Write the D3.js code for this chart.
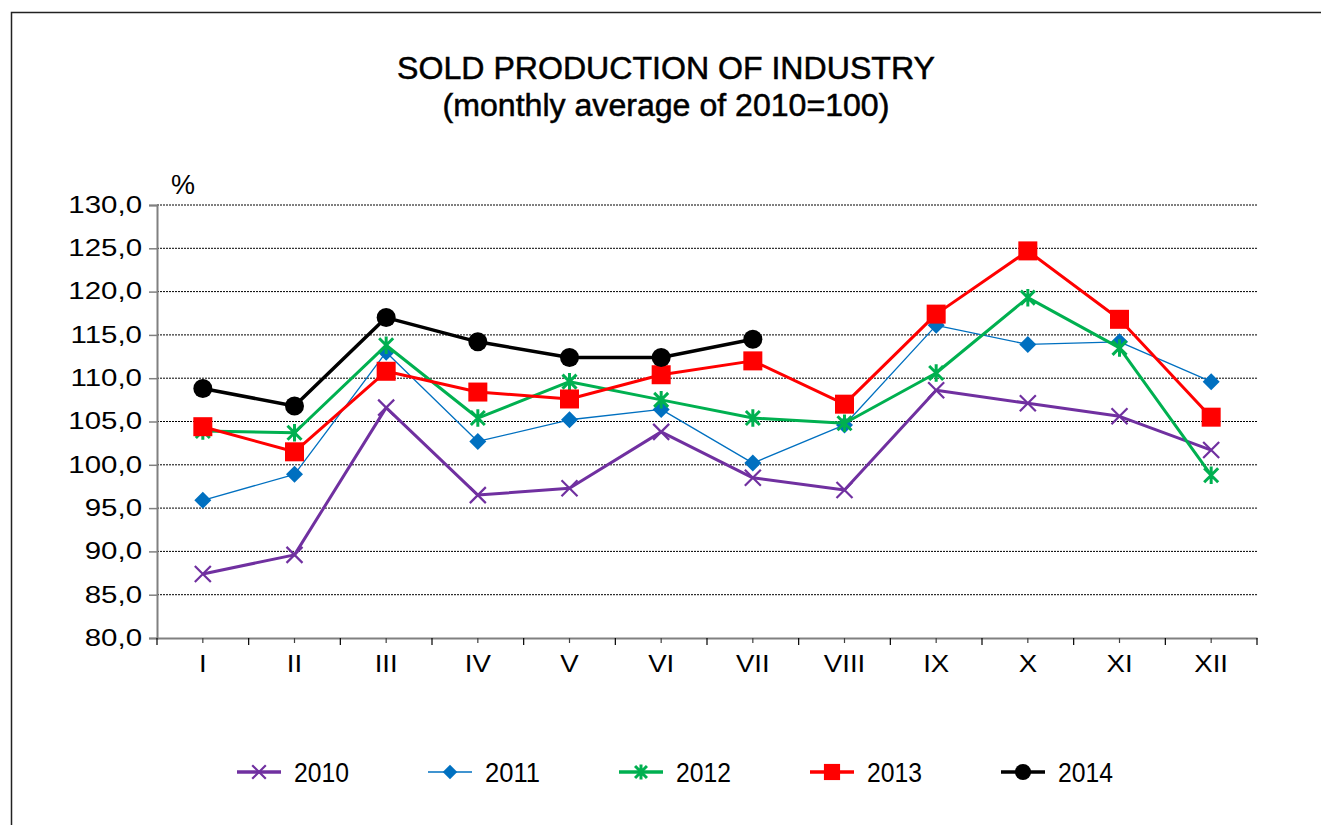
<!DOCTYPE html>
<html><head><meta charset="utf-8">
<script src="https://cdn.jsdelivr.net/npm/d3@7"></script>
<style>body{margin:0;background:#fff}svg{display:block;font-family:"Liberation Sans",Arial,sans-serif}</style>
</head><body>
<svg id="c" width="1321" height="825"></svg>
<script>
const months = ["I","II","III","IV","V","VI","VII","VIII","IX","X","XI","XII"];
const yTicks = [80,85,90,95,100,105,110,115,120,125,130];
const s2010 = [87.4,89.6,106.6,96.5,97.3,103.8,98.5,97.1,108.6,107.1,105.6,101.7];
const s2011 = [95.9,98.9,113.0,102.7,105.2,106.4,100.2,104.6,116.1,113.9,114.2,109.6];
const s2012 = [103.9,103.7,113.8,105.4,109.6,107.5,105.4,104.8,110.6,119.3,113.5,98.8];
const s2013 = [104.4,101.5,110.8,108.4,107.6,110.4,112.0,107.0,117.4,124.7,116.8,105.5];
const s2014 = [108.8,106.8,117.0,114.2,112.4,112.4,114.5];
const seriesNames = ["2010","2011","2012","2013","2014"];

const series = [
  {name:"2010", values:s2010, color:"#7030A0", width:3, marker:"x"},
  {name:"2011", values:s2011, color:"#0070C0", width:1.3, marker:"diamond"},
  {name:"2012", values:s2012, color:"#00B050", width:3, marker:"star"},
  {name:"2013", values:s2013, color:"#FF0000", width:3, marker:"square"},
  {name:"2014", values:s2014, color:"#000000", width:3.5, marker:"circle"}
];

const svg = d3.select("#c");
const L=157, R=1257, T=205, B=638;
const x = d3.scaleBand().domain(months).range([L,R]);
const y = d3.scaleLinear().domain([80,130]).range([B,T]);

function stretch(sel, f){
  sel.each(function(){
    const w = this.getComputedTextLength();
    d3.select(this).attr("textLength", w*f).attr("lengthAdjust","spacingAndGlyphs");
  });
}

// frame
svg.append("path").attr("d",`M11.5,825 V12.5 H1321`).attr("fill","none").attr("stroke","#222").attr("stroke-width",1.5);

// title
const t1 = svg.append("text").attr("x",666).attr("y",79).attr("text-anchor","middle").attr("font-size",31).attr("stroke","#000").attr("stroke-width",0.5).text("SOLD PRODUCTION OF INDUSTRY");
const t2 = svg.append("text").attr("x",666).attr("y",116).attr("text-anchor","middle").attr("font-size",31).attr("stroke","#000").attr("stroke-width",0.5).text("(monthly average of 2010=100)");
stretch(t1,1.035); stretch(t2,1.035);
svg.append("text").attr("x",171).attr("y",194).attr("font-size",27).text("%");

// gridlines
svg.append("g").selectAll("line").data(yTicks.filter(d=>d>80)).join("line")
  .attr("x1",L).attr("x2",R).attr("y1",d=>y(d)).attr("y2",d=>y(d))
  .attr("stroke","#000").attr("stroke-width",1).attr("stroke-dasharray","2,1");

// y axis
const ya = svg.append("g").attr("transform",`translate(${L},0)`)
  .call(d3.axisLeft(y).tickValues(yTicks).tickSize(8).tickPadding(7).tickFormat(d=>d3.format(".1f")(d).replace(".",",")));
ya.select(".domain").attr("stroke","#808080").attr("stroke-width",2);
ya.selectAll(".tick line").attr("stroke","#808080").attr("stroke-width",1.5);
ya.selectAll("text").attr("font-size",23).attr("fill","#000").attr("font-family","Liberation Sans, Arial, sans-serif");
stretch(ya.selectAll("text"),1.28);

// x axis
const xa = svg.append("g").attr("transform",`translate(0,${B})`)
  .call(d3.axisBottom(x).tickSize(5).tickPadding(13).tickSizeOuter(0));
xa.select(".domain").attr("stroke","#808080").attr("stroke-width",2);
xa.selectAll(".tick line").attr("stroke","#404040").attr("stroke-width",1.2);
xa.selectAll("text").attr("font-size",23).attr("fill","#000").attr("font-family","Liberation Sans, Arial, sans-serif");
stretch(xa.selectAll("text"),1.2);
// boundary ticks
svg.append("g").selectAll("line").data(months.map((m,i)=>i).concat([12])).join("line")
  .attr("x1",i=>i<12?x(months[i]):R).attr("x2",i=>i<12?x(months[i]):R)
  .attr("y1",B).attr("y2",B+7).attr("stroke","#000").attr("stroke-width",1.2);

function marker(g, type, color, cx, cy, scale){
  const s = scale||1;
  if(type==="x"){
    const h=8*s;
    g.append("path").attr("d",`M${cx-h},${cy-h}L${cx+h},${cy+h}M${cx-h},${cy+h}L${cx+h},${cy-h}`)
      .attr("stroke",color).attr("stroke-width",2.2).attr("fill","none");
  } else if(type==="diamond"){
    const h=8.5*s;
    g.append("path").attr("d",`M${cx},${cy-h}L${cx+h},${cy}L${cx},${cy+h}L${cx-h},${cy}Z`).attr("fill",color);
  } else if(type==="star"){
    const h=7*s;
    g.append("path").attr("d",`M${cx-h},${cy-h}L${cx+h},${cy+h}M${cx-h},${cy+h}L${cx+h},${cy-h}M${cx},${cy-h*1.25}L${cx},${cy+h*1.25}`)
      .attr("stroke",color).attr("stroke-width",3).attr("fill","none");
  } else if(type==="square"){
    const h=9.5*s;
    g.append("rect").attr("x",cx-h).attr("y",cy-h).attr("width",2*h).attr("height",2*h).attr("fill",color);
  } else if(type==="circle"){
    g.append("circle").attr("cx",cx).attr("cy",cy).attr("r",9.5*s).attr("fill",color);
  }
}

const line = d3.line().x((d,i)=>x(months[i])+x.bandwidth()/2).y(d=>y(d));
series.forEach(s=>{
  const g = svg.append("g");
  g.append("path").attr("d",line(s.values)).attr("fill","none").attr("stroke",s.color).attr("stroke-width",s.width).attr("stroke-linejoin","round");
  s.values.forEach((v,i)=>marker(g,s.marker,s.color,x(months[i])+x.bandwidth()/2,y(v)));
});

// legend
const lx = d3.scaleBand().domain(seriesNames).range([237,1192]);
series.forEach(s=>{
  const g = svg.append("g");
  const x0 = lx(s.name), cy=772;
  g.append("line").attr("x1",x0).attr("x2",x0+44).attr("y1",cy).attr("y2",cy).attr("stroke",s.color).attr("stroke-width",s.name==="2011"?1.5:3.5);
  marker(g,s.marker,s.color,x0+22,cy,0.85);
  g.append("text").attr("x",x0+57).attr("y",cy+10).attr("font-size",27).attr("textLength",55).attr("lengthAdjust","spacingAndGlyphs").text(s.name);
});
</script>
</body></html>
